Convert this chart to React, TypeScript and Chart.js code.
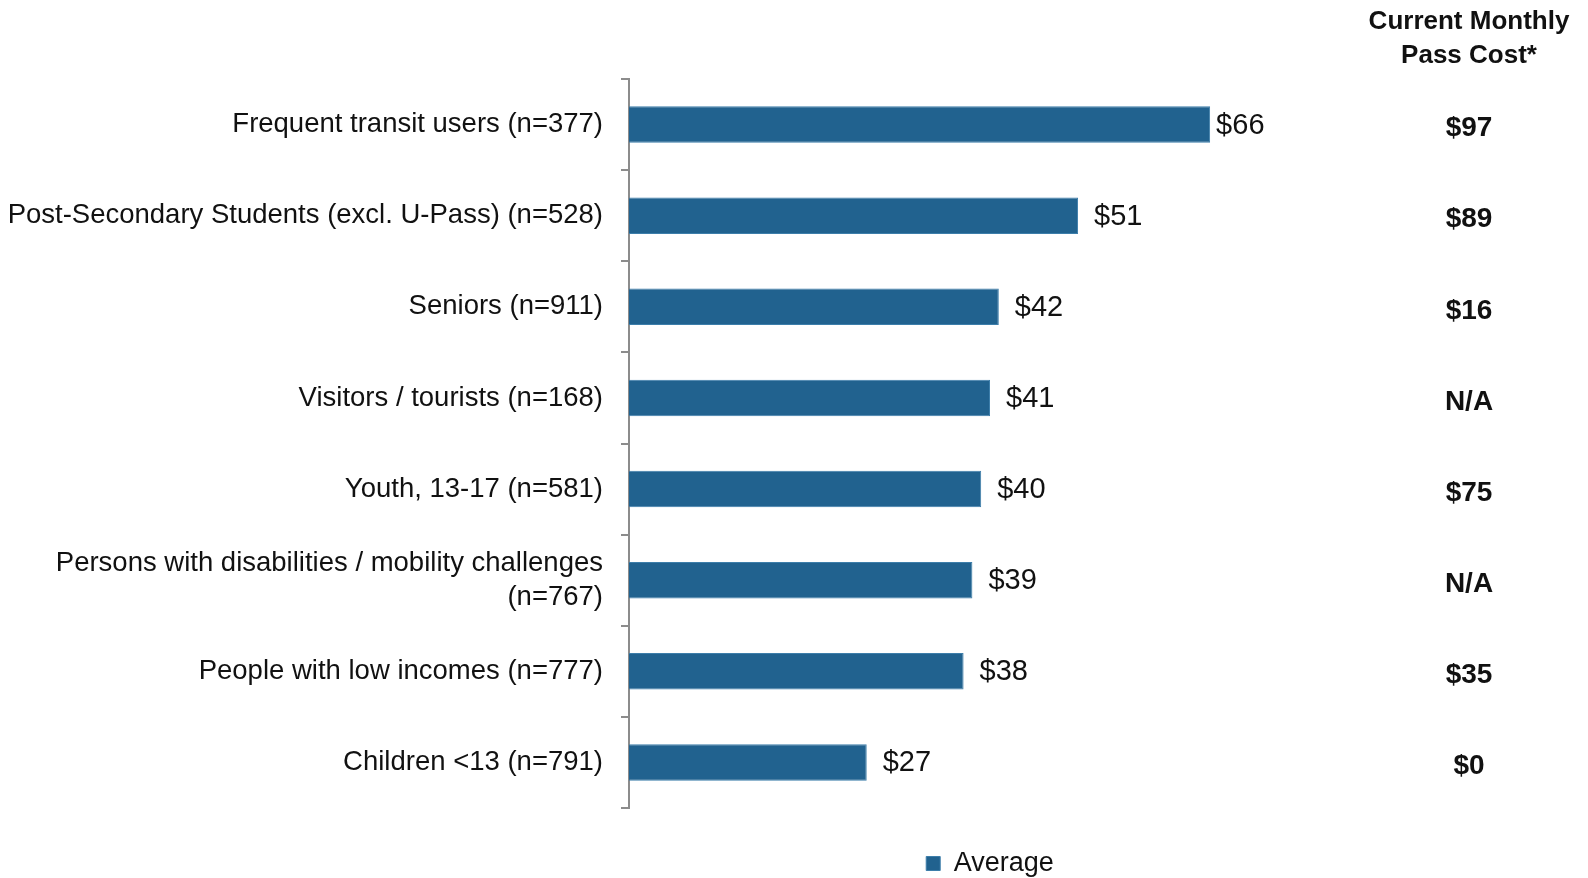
import React, { useEffect, useRef } from "react";
import { Chart, registerables } from "chart.js";

Chart.register(...registerables);

const categories: (string | string[])[] = [
  "Frequent transit users (n=377)",
  "Post-Secondary Students (excl. U-Pass) (n=528)",
  "Seniors (n=911)",
  "Visitors / tourists (n=168)",
  "Youth, 13-17 (n=581)",
  ["Persons with disabilities / mobility challenges", "(n=767)"],
  "People with low incomes (n=777)",
  "Children <13 (n=791)",
];
const averageValues = [66, 51, 42, 41, 40, 39, 38, 27];
const currentPassCost = ["$97", "$89", "$16", "N/A", "$75", "N/A", "$35", "$0"];
const sideHeader = ["Current Monthly", "Pass Cost*"];
const seriesLabel = "Average";

const FONT = "'Liberation Sans', Arial, sans-serif";
const BAR = "#21628f";

export default function App() {
  const ref = useRef<HTMLCanvasElement | null>(null);
  useEffect(() => {
    document.body.style.margin = "0";
    document.body.style.overflow = "hidden";
    const canvas = ref.current!;
    const labelsPlugin = {
      id: "extras",
      afterDatasetsDraw(chart: any) {
        const ctx = chart.ctx;
        const meta = chart.getDatasetMeta(0);
        ctx.save();
        ctx.font = `29px ${FONT}`;
        ctx.fillStyle = "#111";
        ctx.textAlign = "left";
        ctx.textBaseline = "middle";
        meta.data.forEach((bar: any, i: number) => {
          const gap = i === 0 ? 6 : 16;
          ctx.fillText("$" + averageValues[i], bar.x + gap, bar.y + 1);
        });
        const y = chart.scales.y;
        ctx.font = `bold 26px ${FONT}`;
        ctx.textAlign = "center";
        ctx.fillText(sideHeader[0], 1469, 22);
        ctx.fillText(sideHeader[1], 1469, 56);
        ctx.font = `bold 28px ${FONT}`;
        currentPassCost.forEach((c, i) => {
          ctx.fillText(c, 1469, y.getPixelForValue(i) + 4);
        });
        ctx.restore();
      },
    };
    const chart = new Chart(canvas, {
      type: "bar",
      data: {
        labels: categories as any,
        datasets: [
          {
            label: seriesLabel,
            data: averageValues,
            backgroundColor: BAR,
            borderColor: "#3d7eaa",
            borderWidth: 1,
            barPercentage: 0.4,
            categoryPercentage: 1,
          },
        ],
      },
      options: {
        indexAxis: "y",
        responsive: true,
        maintainAspectRatio: false,
        animation: false,
        layout: { padding: { top: 79, right: 237, left: 0, bottom: 0 } },
        plugins: {
          tooltip: { enabled: false },
          legend: {
            position: "bottom",
            fullSize: false,
            maxHeight: 30,
            labels: {
              boxWidth: 14,
              boxHeight: 14,
              color: "#111",
              padding: 2,
              font: { family: FONT, size: 27 },
            },
          },
        },
        scales: {
          x: {
            min: 0,
            max: 82,
            grid: { display: false },
            border: { display: false },
            ticks: { display: false },
            afterFit: (s: any) => {
              s.height = 40;
            },
          },
          y: {
            grid: {
              display: true,
              drawOnChartArea: false,
              drawTicks: true,
              tickLength: 8,
              color: "#8c8c8c",
              lineWidth: 2,
              offset: true,
            },
            border: { display: true, color: "#8c8c8c", width: 2 },
            ticks: {
              color: "#111",
              padding: 18,
              font: { family: FONT, size: 27.5, lineHeight: 1.25 },
            },
            afterFit: (s: any) => {
              s.width = 629;
            },
          },
        },
      },
      plugins: [labelsPlugin],
    });
    return () => chart.destroy();
  }, []);
  return (
    <div style={{ width: 1588, height: 878, position: "relative" }}>
      <canvas ref={ref} />
    </div>
  );
}
